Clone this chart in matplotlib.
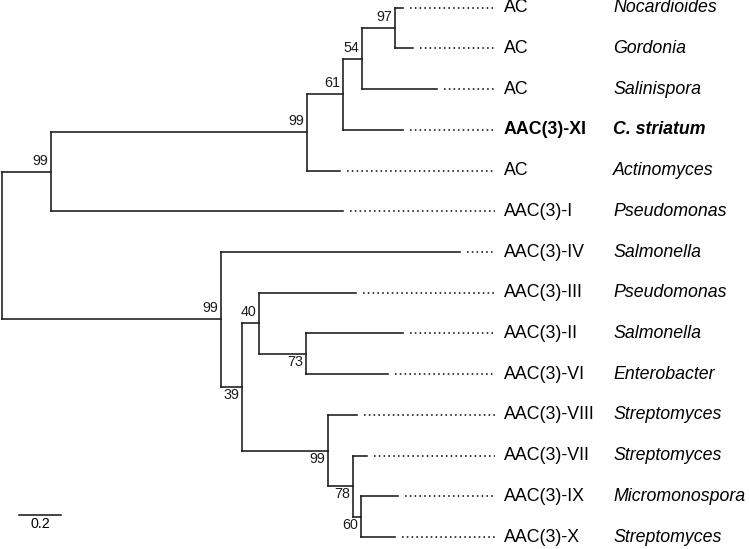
import matplotlib
matplotlib.use("Agg")
import matplotlib.pyplot as plt

plt.rcParams["font.family"] = ["Liberation Sans", "DejaVu Sans"]

# ── tree data ────────────────────────────────────────────────────────────────
# internal nodes (name, parent, branch length, bootstrap support)
node_names   = ["root", "n1", "n2", "n3", "n4", "n5", "n6", "n7", "n8", "n9", "n10", "n11", "n12"]
node_parent  = [None, "root", "n1", "n2", "n3", "n4", "root", "n6", "n7", "n8", "n7", "n10", "n11"]
node_length  = [0.0, 0.233, 1.219, 0.172, 0.090, 0.157, 1.043, 0.100, 0.081, 0.224, 0.409, 0.119, 0.039]
node_support = [None, 99, 99, 61, 54, 97, 99, 39, 40, 73, 99, 78, 60]

# leaves, top to bottom
leaf_gene    = ["AC", "AC", "AC", "AAC(3)-XI", "AC", "AAC(3)-I", "AAC(3)-IV", "AAC(3)-III",
                "AAC(3)-II", "AAC(3)-VI", "AAC(3)-VIII", "AAC(3)-VII", "AAC(3)-IX", "AAC(3)-X"]
leaf_species = ["Nocardioides", "Gordonia", "Salinispora", "C. striatum", "Actinomyces",
                "Pseudomonas", "Salmonella", "Pseudomonas", "Salmonella", "Enterobacter",
                "Streptomyces", "Streptomyces", "Micromonospora", "Streptomyces"]
leaf_parent  = ["n5", "n5", "n4", "n3", "n2", "n1", "n6", "n8", "n9", "n9", "n10", "n11", "n12", "n12"]
leaf_length  = [0.039, 0.086, 0.357, 0.286, 0.158, 1.391, 1.138, 0.462,
                0.462, 0.390, 0.138, 0.067, 0.176, 0.161]
highlight    = "AAC(3)-XI"
scale_len    = 0.2

# ── layout ───────────────────────────────────────────────────────────────────
depth, ypos, children = {}, {}, {n: [] for n in node_names}
for name, par, bl in zip(node_names, node_parent, node_length):
    depth[name] = bl if par is None else depth[par] + bl
    if par is not None:
        children[par].append(name)
leaves = [f"leaf{i}" for i in range(len(leaf_gene))]
for i, (lf, par, bl) in enumerate(zip(leaves, leaf_parent, leaf_length)):
    depth[lf] = depth[par] + bl
    ypos[lf] = i
    children[par].append(lf)


def get_y(n):
    if n in ypos:
        return ypos[n]
    ys = [get_y(c) for c in children[n]]
    ypos[n] = (min(ys) + max(ys)) / 2
    return ypos[n]


get_y("root")
parent_of = dict(zip(node_names, node_parent))
parent_of.update(dict(zip(leaves, leaf_parent)))

fig = plt.figure(figsize=(7.5, 5.49), dpi=100)
ax = fig.add_axes([0, 0, 1, 1])
ax.axis("off")
ax.set_xlim(-0.0095, 3.562)
ax.set_ylim(13.294, -0.19)

lc, lw = "#1a1a1a", 1.15
# horizontal branches
for n, par in parent_of.items():
    if par is None:
        continue
    ax.plot([depth[par], depth[n]], [ypos[n], ypos[n]], color=lc, lw=lw, solid_capstyle="projecting")
# vertical connectors
for n in node_names:
    ys = [ypos[c] for c in children[n]]
    ax.plot([depth[n], depth[n]], [min(ys), max(ys)], color=lc, lw=lw, solid_capstyle="projecting")

# dotted leaders + labels
dot_end, gene_x, sp_x = 2.348, 2.390, 2.910
for lf, gene, sp in zip(leaves, leaf_gene, leaf_species):
    y = ypos[lf]
    ax.plot([depth[lf] + 0.035, dot_end], [y, y], color="#111111", lw=1.15, linestyle=(0, (1, 2)))
    bold = "bold" if gene == highlight else "normal"
    ax.text(gene_x, y, gene, fontsize=12.8, va="center", ha="left", fontweight=bold)
    ax.text(sp_x, y, sp, fontsize=12.8, va="center", ha="left", style="italic", fontweight=bold)

# bootstrap values
below = {"n7", "n9", "n10", "n11", "n12"}
for n, s in zip(node_names, node_support):
    if s is None:
        continue
    dy = -6 if n in below else 8
    ax.annotate(str(s), (depth[n], ypos[n]), xytext=(-2, dy), textcoords="offset points",
                ha="right", va="center", fontsize=10.3, color="#1a1a1a")

# scale bar
sb_x, sb_y = 0.081, 12.45
ax.plot([sb_x, sb_x + scale_len], [sb_y, sb_y], color=lc, lw=lw)
ax.text(sb_x + scale_len / 2, sb_y + 0.07, f"{scale_len}", ha="center", va="top", fontsize=10.3)

fig.savefig("out.png", dpi=100)
